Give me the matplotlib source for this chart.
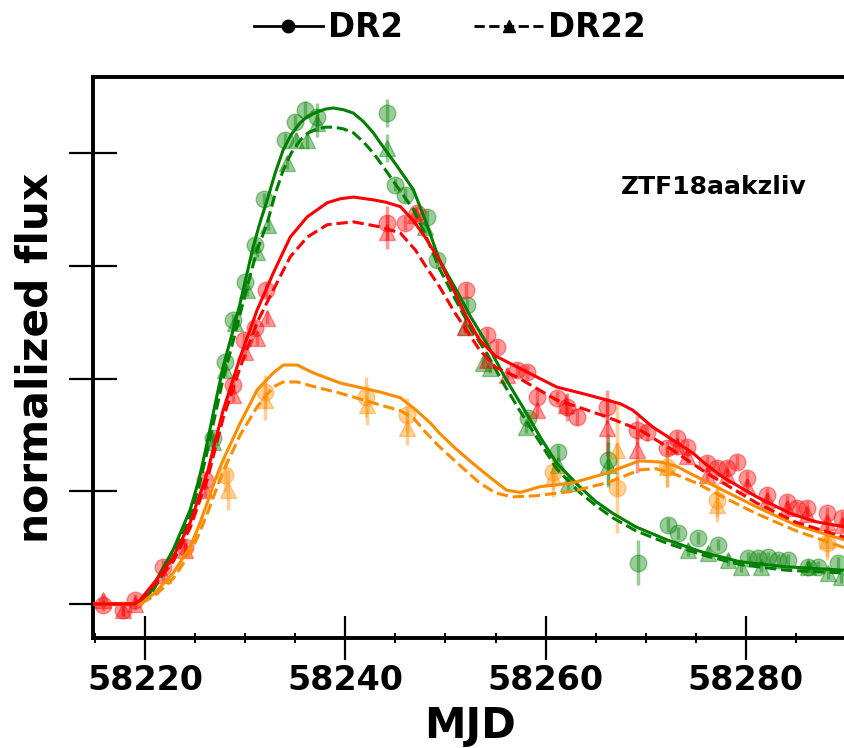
import matplotlib
matplotlib.use("Agg")
import matplotlib.pyplot as plt
from matplotlib.lines import Line2D
from matplotlib.ticker import MultipleLocator

# ---------------- data ----------------
# fitted light curves (DR2 solid, DR22 dashed)
g_fit_dr2_x = [58214.8, 58219.0, 58219.5, 58220.5, 58221.5, 58222.8, 58224.5, 58225.4, 58226.2, 58227.0,
               58227.8, 58228.7, 58229.5, 58230.8, 58231.5, 58232.2, 58233.0, 58233.8, 58234.6, 58235.5,
               58236.3, 58237.2, 58238.0, 58238.8, 58239.8, 58240.8, 58241.8, 58242.8, 58243.5, 58245.2,
               58246.8, 58248.0, 58249.4, 58251.0, 58252.5, 58254.1, 58256.0, 58257.7, 58259.5, 58261.1,
               58263.4, 58265.0, 58266.7, 58269.0, 58272.1, 58275.5, 58279.4, 58284.0, 58289.8, 58291.0]
g_fit_dr2_y = [0.0, 0.0, 0.002, 0.020, 0.055, 0.096, 0.167, 0.222, 0.286, 0.355,
               0.421, 0.480, 0.534, 0.634, 0.678, 0.717, 0.765, 0.806, 0.833, 0.854,
               0.866, 0.873, 0.878, 0.880, 0.877, 0.871, 0.856, 0.836, 0.818, 0.776,
               0.735, 0.680, 0.610, 0.560, 0.510, 0.463, 0.400, 0.350, 0.295, 0.250,
               0.208, 0.182, 0.161, 0.137, 0.114, 0.093, 0.075, 0.066, 0.060, 0.059]
g_fit_dr22_x = [58214.8, 58219.0, 58219.5, 58220.5, 58221.5, 58222.8, 58224.5, 58225.4, 58226.2, 58227.0,
                58227.8, 58228.7, 58229.5, 58230.3, 58231.2, 58232.2, 58233.0, 58233.8, 58234.6, 58235.5,
                58236.3, 58237.2, 58238.0, 58238.8, 58239.8, 58240.8, 58241.8, 58242.8, 58243.5, 58245.0,
                58246.8, 58248.0, 58249.4, 58251.0, 58252.5, 58254.1, 58256.0, 58257.7, 58259.5, 58261.1,
                58263.4, 58265.0, 58266.7, 58269.0, 58272.1, 58275.5, 58279.4, 58284.0, 58289.8, 58291.0]
g_fit_dr22_y = [0.0, 0.0, 0.0, 0.015, 0.045, 0.085, 0.155, 0.210, 0.270, 0.335,
                0.400, 0.460, 0.515, 0.570, 0.628, 0.676, 0.728, 0.770, 0.800, 0.823,
                0.836, 0.843, 0.846, 0.846, 0.843, 0.836, 0.820, 0.800, 0.783, 0.745,
                0.700, 0.655, 0.595, 0.540, 0.490, 0.445, 0.385, 0.335, 0.285, 0.240,
                0.198, 0.175, 0.153, 0.130, 0.108, 0.088, 0.070, 0.060, 0.055, 0.054]

r_fit_dr2_x = [58214.8, 58219.0, 58219.5, 58221.0, 58222.8, 58224.5, 58226.2, 58227.8, 58229.5, 58231.2,
               58232.8, 58234.5, 58236.2, 58238.2, 58239.5, 58240.8, 58242.8, 58244.0, 58245.5, 58246.8,
               58248.0, 58249.4, 58251.0, 58252.0, 58253.4, 58255.0, 58257.1, 58261.1, 58264.0, 58266.1,
               58267.5, 58268.7, 58270.7, 58272.7, 58274.7, 58276.0, 58277.7, 58281.1, 58284.4, 58287.0,
               58289.8, 58291.0]
r_fit_dr2_y = [0.0, 0.0, 0.007, 0.040, 0.083, 0.144, 0.232, 0.344, 0.438, 0.522,
               0.587, 0.651, 0.687, 0.712, 0.719, 0.722, 0.717, 0.713, 0.705, 0.680,
               0.650, 0.610, 0.550, 0.513, 0.468, 0.440, 0.421, 0.385, 0.372, 0.362,
               0.355, 0.344, 0.314, 0.291, 0.268, 0.248, 0.225, 0.190, 0.161, 0.146,
               0.137, 0.134]
r_fit_dr22_x = [58214.8, 58219.0, 58219.5, 58221.0, 58222.8, 58224.5, 58226.2, 58227.8, 58229.5, 58231.2,
                58232.8, 58234.5, 58236.2, 58238.2, 58240.8, 58243.5, 58245.5, 58247.0, 58248.0, 58249.4,
                58251.0, 58253.4, 58255.0, 58257.1, 58261.1, 58264.0, 58266.1, 58269.4, 58272.7, 58276.1,
                58281.1, 58285.0, 58289.8, 58291.0]
r_fit_dr22_y = [0.0, 0.0, 0.005, 0.035, 0.075, 0.135, 0.220, 0.330, 0.420, 0.500,
                0.557, 0.616, 0.651, 0.673, 0.678, 0.669, 0.658, 0.628, 0.600, 0.563,
                0.515, 0.451, 0.420, 0.403, 0.362, 0.345, 0.332, 0.309, 0.273, 0.232,
                0.179, 0.145, 0.119, 0.115]

o_fit_dr2_x = [58214.8, 58219.0, 58219.5, 58221.0, 58222.8, 58224.5, 58225.4, 58226.2, 58227.0, 58227.8,
               58229.5, 58231.2, 58232.8, 58233.8, 58235.2, 58236.8, 58239.5, 58241.5, 58243.5, 58245.5,
               58247.0, 58248.5, 58249.4, 58251.0, 58252.7, 58254.5, 58256.1, 58257.5, 58259.4, 58262.7,
               58266.1, 58268.0, 58269.4, 58271.4, 58273.0, 58274.4, 58277.7, 58281.1, 58285.0, 58289.8,
               58291.0]
o_fit_dr2_y = [0.0, 0.0, 0.0, 0.020, 0.055, 0.101, 0.140, 0.179, 0.220, 0.256,
               0.321, 0.380, 0.410, 0.424, 0.424, 0.410, 0.392, 0.384, 0.376, 0.366,
               0.345, 0.321, 0.303, 0.276, 0.250, 0.224, 0.202, 0.198, 0.208, 0.215,
               0.232, 0.245, 0.254, 0.252, 0.245, 0.232, 0.202, 0.172, 0.140, 0.114,
               0.108]
o_fit_dr22_x = [58214.8, 58219.0, 58219.5, 58221.0, 58222.8, 58224.5, 58225.4, 58226.2, 58227.0, 58227.8,
                58229.5, 58231.2, 58232.8, 58233.8, 58235.2, 58237.0, 58239.5, 58243.5, 58245.5, 58246.8,
                58248.0, 58249.4, 58251.5, 58253.4, 58255.0, 58256.7, 58259.0, 58262.7, 58266.1, 58268.0,
                58269.4, 58271.0, 58272.7, 58275.0, 58277.7, 58281.1, 58285.0, 58289.8, 58291.0]
o_fit_dr22_y = [0.0, 0.0, 0.0, 0.015, 0.045, 0.090, 0.125, 0.160, 0.198, 0.235,
                0.300, 0.350, 0.385, 0.394, 0.394, 0.385, 0.374, 0.353, 0.343, 0.330,
                0.305, 0.279, 0.245, 0.215, 0.197, 0.190, 0.192, 0.200, 0.215, 0.228,
                0.238, 0.240, 0.232, 0.215, 0.190, 0.160, 0.130, 0.100, 0.095]

# photometry points: DR2 (circles) and DR22 (triangles)
g_dr2_mjd = [58226.8, 58228.0, 58228.8, 58230.0, 58231.0, 58231.9, 58234.0, 58235.0, 58236.0, 58237.2,
             58244.2, 58245.0, 58246.0, 58248.2, 58249.2, 58252.2, 58258.2, 58261.2, 58266.2, 58269.2,
             58272.2, 58273.2, 58275.2, 58277.2, 58280.2, 58281.2, 58282.2, 58283.2, 58284.2, 58286.2,
             58287.2, 58289.2]
g_dr2_flux = [0.295, 0.429, 0.504, 0.571, 0.637, 0.719, 0.823, 0.855, 0.877, 0.864,
              0.871, 0.744, 0.726, 0.687, 0.610, 0.531, 0.330, 0.270, 0.256, 0.073,
              0.140, 0.126, 0.117, 0.105, 0.082, 0.082, 0.083, 0.078, 0.078, 0.066,
              0.066, 0.073]
g_dr2_err = [0.010, 0.010, 0.010, 0.010, 0.010, 0.010, 0.012, 0.012, 0.015, 0.025,
             0.025, 0.012, 0.012, 0.012, 0.012, 0.010, 0.010, 0.012, 0.045, 0.040,
             0.012, 0.010, 0.010, 0.010, 0.010, 0.010, 0.010, 0.010, 0.010, 0.010,
             0.010, 0.010]
g_dr22_mjd = [58226.8, 58228.0, 58229.0, 58230.2, 58231.2, 58232.3, 58234.2, 58235.1, 58236.2, 58237.2,
              58244.2, 58248.0, 58252.0, 58253.7, 58254.4, 58258.0, 58261.2, 58262.2, 58266.2, 58274.2,
              58276.2, 58278.2, 58279.5, 58281.5, 58286.2, 58288.2, 58289.5]
g_dr22_flux = [0.287, 0.415, 0.499, 0.557, 0.625, 0.673, 0.783, 0.823, 0.823, 0.854,
               0.809, 0.669, 0.492, 0.428, 0.419, 0.314, 0.247, 0.215, 0.247, 0.096,
               0.091, 0.078, 0.066, 0.066, 0.066, 0.055, 0.048]
g_dr22_err = [0.010, 0.010, 0.010, 0.010, 0.010, 0.010, 0.012, 0.012, 0.015, 0.025,
              0.025, 0.012, 0.010, 0.010, 0.010, 0.010, 0.012, 0.012, 0.040, 0.010,
              0.010, 0.010, 0.010, 0.010, 0.010, 0.010, 0.010]

r_dr2_mjd = [58215.8, 58217.8, 58219.0, 58221.8, 58224.0, 58226.0, 58228.8, 58229.9, 58231.0, 58232.1,
             58244.2, 58246.0, 58247.2, 58252.1, 58254.1, 58255.1, 58257.1, 58258.1, 58259.1, 58261.1,
             58262.1, 58263.1, 58266.1, 58269.1, 58270.1, 58272.1, 58273.1, 58274.1, 58276.1, 58277.1,
             58278.1, 58279.1, 58280.1, 58282.1, 58284.1, 58285.1, 58286.1, 58288.1, 58289.6]
r_dr2_flux = [-0.002, -0.011, 0.007, 0.066, 0.101, 0.220, 0.389, 0.468, 0.490, 0.557,
              0.676, 0.676, 0.694, 0.557, 0.477, 0.456, 0.415, 0.412, 0.367, 0.366,
              0.350, 0.332, 0.350, 0.309, 0.305, 0.277, 0.295, 0.279, 0.250, 0.241,
              0.241, 0.252, 0.224, 0.193, 0.181, 0.170, 0.170, 0.161, 0.153]
r_dr2_err = [0.010, 0.010, 0.010, 0.012, 0.012, 0.012, 0.012, 0.012, 0.012, 0.012,
             0.030, 0.012, 0.012, 0.012, 0.012, 0.012, 0.012, 0.012, 0.012, 0.012,
             0.025, 0.015, 0.030, 0.025, 0.015, 0.012, 0.012, 0.012, 0.012, 0.012,
             0.012, 0.012, 0.012, 0.012, 0.012, 0.012, 0.012, 0.012, 0.012]
r_dr22_mjd = [58215.8, 58217.8, 58219.0, 58221.8, 58224.0, 58226.0, 58228.8, 58230.0, 58231.2, 58232.2,
              58244.2, 58247.0, 58252.0, 58254.1, 58256.1, 58259.1, 58262.0, 58266.1, 58269.1, 58273.1,
              58274.1, 58276.1, 58278.1, 58280.1, 58282.1, 58284.1, 58286.1, 58288.1, 58289.6]
r_dr22_flux = [0.007, -0.011, 0.000, 0.051, 0.096, 0.202, 0.371, 0.447, 0.472, 0.508,
               0.660, 0.690, 0.492, 0.433, 0.406, 0.344, 0.353, 0.312, 0.273, 0.280,
               0.262, 0.228, 0.228, 0.210, 0.185, 0.170, 0.160, 0.145, 0.140]
r_dr22_err = [0.010, 0.010, 0.010, 0.012, 0.012, 0.012, 0.012, 0.012, 0.012, 0.012,
              0.030, 0.012, 0.012, 0.012, 0.012, 0.012, 0.020, 0.050, 0.040, 0.015,
              0.012, 0.012, 0.012, 0.012, 0.012, 0.012, 0.012, 0.012, 0.012]

o_dr2_mjd = [58228.0, 58232.0, 58242.1, 58246.2, 58260.7, 58267.1, 58272.1, 58277.1, 58288.1]
o_dr2_flux = [0.229, 0.376, 0.367, 0.335, 0.234, 0.206, 0.243, 0.185, 0.108]
o_dr2_err = [0.030, 0.030, 0.035, 0.030, 0.030, 0.080, 0.035, 0.030, 0.030]
o_dr22_mjd = [58228.3, 58232.0, 58242.2, 58246.2, 58260.7, 58267.1, 58272.1, 58277.1, 58288.1]
o_dr22_flux = [0.202, 0.362, 0.353, 0.312, 0.225, 0.273, 0.243, 0.176, 0.114]
o_dr22_err = [0.035, 0.035, 0.035, 0.030, 0.035, 0.080, 0.035, 0.030, 0.030]

y_ticks = [0.0, 0.2, 0.4, 0.6, 0.8]
x_ticks = [58220, 58240, 58260, 58280]
object_name = "ZTF18aakzliv"

# ---------------- plot ----------------
plt.rcParams['font.family'] = ['DejaVu Sans']
fig = plt.figure(figsize=(8.44, 7.48), dpi=100)
ax = fig.add_axes([93 / 844, 110 / 748, 754 / 844, 561 / 748])

GREEN = "#008000"
RED = "#ff0000"
ORANGE = "#ff8c00"

bands = [
    (GREEN, g_fit_dr2_x, g_fit_dr2_y, g_fit_dr22_x, g_fit_dr22_y,
     g_dr2_mjd, g_dr2_flux, g_dr2_err, g_dr22_mjd, g_dr22_flux, g_dr22_err),
    (ORANGE, o_fit_dr2_x, o_fit_dr2_y, o_fit_dr22_x, o_fit_dr22_y,
     o_dr2_mjd, o_dr2_flux, o_dr2_err, o_dr22_mjd, o_dr22_flux, o_dr22_err),
    (RED, r_fit_dr2_x, r_fit_dr2_y, r_fit_dr22_x, r_fit_dr22_y,
     r_dr2_mjd, r_dr2_flux, r_dr2_err, r_dr22_mjd, r_dr22_flux, r_dr22_err),
]

for (c, fx2, fy2, fx22, fy22, m2, f2, e2, m22, f22, e22) in bands:
    ax.errorbar(m2, f2, yerr=e2, fmt='o', color=c, ms=12, alpha=0.4,
                elinewidth=2.5, capsize=0, mec=c, zorder=2)
    ax.errorbar(m22, f22, yerr=e22, fmt='^', color=c, ms=12, alpha=0.4,
                elinewidth=2.5, capsize=0, mec=c, zorder=2)
    ax.plot(fx2, fy2, '-', color=c, lw=2.2, zorder=3)
    ax.plot(fx22, fy22, '--', color=c, lw=2.2, zorder=3)

ax.set_xlim(58214.8, 58290.1)
ax.set_ylim(-0.0603, 0.935)
ax.set_xticks(x_ticks)
ax.xaxis.set_minor_locator(MultipleLocator(5))
ax.set_yticks(y_ticks)
ax.set_yticklabels([])

for s in ax.spines.values():
    s.set_linewidth(2.8)

ax.tick_params(axis='x', which='major', direction='inout', length=31, width=1.6,
               labelsize=24, pad=3)
ax.tick_params(axis='x', which='minor', direction='inout', length=7, width=1.4)
ax.tick_params(axis='y', which='major', direction='inout', length=35, width=1.6)
for lab in ax.get_xticklabels():
    lab.set_fontweight('bold')

ax.set_xlabel("MJD", fontsize=30, fontweight='bold', labelpad=6)
ax.set_ylabel("normalized flux", fontsize=30.5, fontweight='bold', labelpad=5)

ax.text(0.70, 0.804, object_name, transform=ax.transAxes, fontsize=18,
        fontweight='bold', va='center', ha='left')

handles = [Line2D([], [], color='k', marker='o', ls='-', lw=2, ms=9),
           Line2D([], [], color='k', marker='^', ls='--', lw=2, ms=9)]
fig.legend(handles, ["DR2", "DR22"], loc='center', bbox_to_anchor=(0.533, 0.963),
           ncol=2, frameon=False, prop={'size': 23.5, 'weight': 'bold'},
           handlelength=2.1, handletextpad=0.15, columnspacing=2.2)

fig.savefig("out.png", dpi=100)
